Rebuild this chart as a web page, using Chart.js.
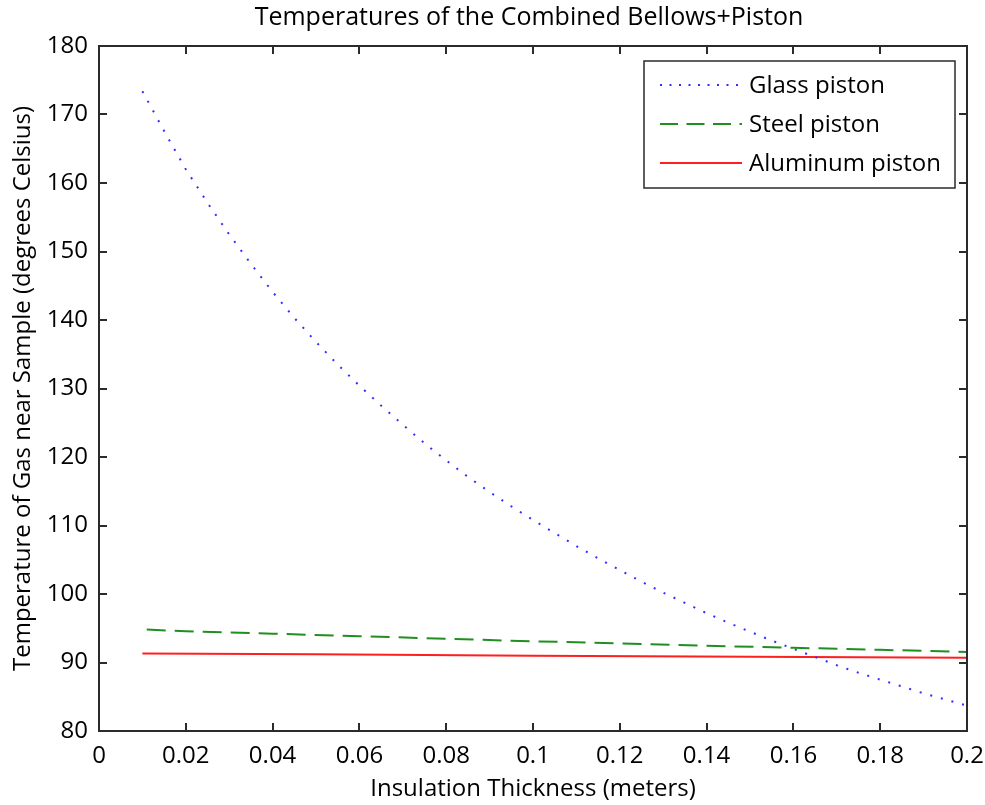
<!DOCTYPE html>
<html>
<head>
<meta charset="utf-8">
<title>Temperatures of the Combined Bellows+Piston</title>
<script src="https://cdn.jsdelivr.net/npm/chart.js@4.4.0/dist/chart.umd.min.js"></script>
<style>
  html, body { margin: 0; padding: 0; background: #fff; }
</style>
</head>
<body>
<canvas id="myChart" width="985" height="805"></canvas>
<script>
// Datos
const chartTitle = "Temperatures of the Combined Bellows+Piston";
const xAxisTitle = "Insulation Thickness (meters)";
const yAxisTitle = "Temperature of Gas near Sample (degrees Celsius)";

const xTickLabels = ["0", "0.02", "0.04", "0.06", "0.08", "0.1", "0.12", "0.14", "0.16", "0.18", "0.2"];
const yTickLabels = ["80", "90", "100", "110", "120", "130", "140", "150", "160", "170", "180"];

const glassThickness = [0.010, 0.015, 0.020, 0.025, 0.030, 0.035, 0.040, 0.045, 0.050, 0.055,
  0.060, 0.065, 0.070, 0.075, 0.080, 0.085, 0.090, 0.095, 0.100, 0.105,
  0.110, 0.115, 0.120, 0.125, 0.130, 0.135, 0.140, 0.145, 0.150, 0.155,
  0.160, 0.165, 0.170, 0.175, 0.180, 0.185, 0.190, 0.195, 0.200];
const glassTemp = [173.4, 167.6, 162.0, 157.1, 152.5, 148.2, 144.1, 140.3, 136.8, 133.5,
  130.4, 127.5, 124.7, 122.0, 119.5, 117.1, 114.9, 112.8, 110.8, 108.9,
  107.0, 105.2, 103.5, 101.8, 100.2, 98.7, 97.2, 95.8, 94.5, 93.2,
  92.0, 90.8, 89.6, 88.5, 87.5, 86.5, 85.5, 84.6, 83.7];

const steelThickness = [0.011, 0.020, 0.040, 0.060, 0.080, 0.100, 0.120, 0.140, 0.160, 0.180, 0.200];
const steelTemp = [94.8, 94.55, 94.2, 93.85, 93.45, 93.1, 92.8, 92.45, 92.15, 91.85, 91.55];

const aluminumThickness = [0.010, 0.050, 0.100, 0.150, 0.200];
const aluminumTemp = [91.3, 91.2, 91.0, 90.85, 90.7];

const seriesLabels = ["Glass piston", "Steel piston", "Aluminum piston"];

const FONT = "'Open Sans', 'DejaVu Sans', sans-serif";
const AXIS_COLOR = "#2b2b2b";

const toPoints = (xs, ys) => xs.map((x, i) => ({ x: x, y: ys[i] }));

// Caja de ejes estilo MATLAB con marcas hacia adentro + titulo
const boxPlugin = {
  id: "matlabBox",
  afterDraw(chart) {
    const { ctx, chartArea } = chart;
    const { left, right, top, bottom } = chartArea;
    const xs = chart.scales.x;
    const ys = chart.scales.y;
    const tick = 8;
    ctx.save();
    ctx.strokeStyle = AXIS_COLOR;
    ctx.lineWidth = 2;
    ctx.setLineDash([]);
    ctx.strokeRect(left, top, right - left, bottom - top);
    ctx.beginPath();
    xs.ticks.forEach((t) => {
      const px = Math.round(xs.getPixelForValue(t.value));
      ctx.moveTo(px, bottom); ctx.lineTo(px, bottom - tick);
      ctx.moveTo(px, top); ctx.lineTo(px, top + tick);
    });
    ys.ticks.forEach((t) => {
      const py = Math.round(ys.getPixelForValue(t.value));
      ctx.moveTo(left, py); ctx.lineTo(left + tick, py);
      ctx.moveTo(right, py); ctx.lineTo(right - tick, py);
    });
    ctx.stroke();

    // titulo centrado sobre los ejes
    ctx.fillStyle = "#000";
    ctx.font = "25px " + FONT;
    ctx.textAlign = "center";
    ctx.textBaseline = "middle";
    ctx.fillText(chartTitle, (left + right) / 2 - 4, 18);
    ctx.restore();
  }
};

// Leyenda dibujada dentro del area de ejes, esquina superior derecha
const legendPlugin = {
  id: "boxLegend",
  afterDraw(chart) {
    const { ctx, chartArea } = chart;
    const w = 311, h = 127;
    const x0 = chartArea.right - 12 - w;
    const y0 = chartArea.top + 15;
    ctx.save();
    ctx.fillStyle = "#fff";
    ctx.fillRect(x0, y0, w, h);
    ctx.strokeStyle = AXIS_COLOR;
    ctx.lineWidth = 1.5;
    ctx.setLineDash([]);
    ctx.strokeRect(x0, y0, w, h);
    chart.data.datasets.forEach((ds, i) => {
      const y = y0 + 24 + i * 39;
      ctx.beginPath();
      ctx.setLineDash(ds.legendDash || []);
      ctx.strokeStyle = ds.borderColor;
      ctx.lineWidth = ds.borderWidth;
      ctx.moveTo(x0 + 16, y);
      ctx.lineTo(x0 + 98, y);
      ctx.stroke();
      ctx.setLineDash([]);
      ctx.fillStyle = "#000";
      ctx.font = "24px " + FONT;
      ctx.textAlign = "left";
      ctx.textBaseline = "middle";
      ctx.fillText(ds.label, x0 + 105, y + 1);
    });
    ctx.restore();
  }
};

const datasets = [
  {
    label: seriesLabels[0],
    data: toPoints(glassThickness, glassTemp),
    borderColor: "#2f2fff",
    borderWidth: 2,
    borderDash: [2, 9],
    legendDash: [2, 7.5],
    pointRadius: 0,
    tension: 0,
    fill: false
  },
  {
    label: seriesLabels[1],
    data: toPoints(steelThickness, steelTemp),
    borderColor: "#1f8f1f",
    borderWidth: 2,
    borderDash: [19, 9],
    legendDash: [18, 8.5],
    pointRadius: 0,
    tension: 0,
    fill: false
  },
  {
    label: seriesLabels[2],
    data: toPoints(aluminumThickness, aluminumTemp),
    borderColor: "#ff1f1f",
    borderWidth: 2,
    legendDash: [],
    pointRadius: 0,
    tension: 0,
    fill: false
  }
];

const config = {
  type: "line",
  data: { datasets },
  options: {
    responsive: false,
    animation: false,
    devicePixelRatio: 1,
    layout: { padding: { top: 46, right: 18, left: 0, bottom: 0 } },
    plugins: {
      legend: { display: false },
      title: { display: false },
      tooltip: { enabled: false }
    },
    scales: {
      x: {
        type: "linear",
        min: 0,
        max: 0.2,
        afterFit: (scale) => {
          scale.height = 74;
          scale.paddingLeft = 0;
          scale.paddingRight = 0;
        },
        grid: { display: false, drawTicks: false },
        border: { display: false },
        ticks: {
          stepSize: 0.02,
          autoSkip: false,
          maxRotation: 0,
          padding: 11,
          color: "#000",
          font: { family: FONT, size: 24 },
          callback: (value, index) => xTickLabels[index]
        },
        title: {
          display: true,
          text: xAxisTitle,
          color: "#000",
          font: { family: FONT, size: 24 },
          padding: { top: 0, bottom: 1 }
        }
      },
      y: {
        min: 80,
        max: 180,
        afterFit: (scale) => {
          scale.width = 99;
          scale.paddingTop = 0;
          scale.paddingBottom = 0;
        },
        grid: { display: false, drawTicks: false },
        border: { display: false },
        ticks: {
          stepSize: 10,
          autoSkip: false,
          padding: 11,
          color: "#000",
          font: { family: FONT, size: 24 },
          callback: (value, index) => yTickLabels[index]
        },
        title: {
          display: true,
          text: yAxisTitle,
          color: "#000",
          font: { family: FONT, size: 24 },
          padding: { top: 9, bottom: 0 }
        }
      }
    }
  },
  plugins: [boxPlugin, legendPlugin]
};

const myChart = new Chart(document.querySelector("#myChart"), config);
</script>
</body>
</html>
